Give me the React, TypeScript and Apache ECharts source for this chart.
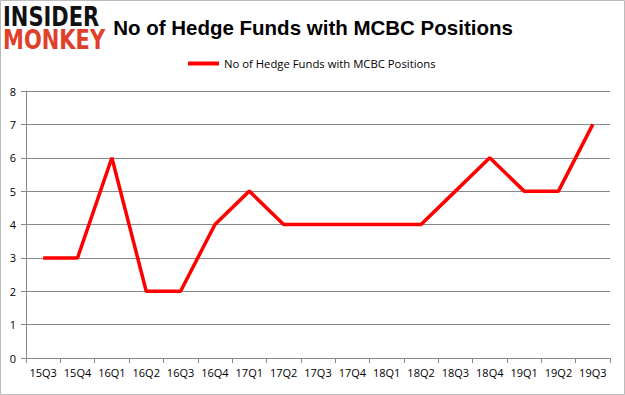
import React, { useEffect, useRef } from "react";
import * as echarts from "echarts";

const categories = ["15Q3","15Q4","16Q1","16Q2","16Q3","16Q4","17Q1","17Q2","17Q3","17Q4","18Q1","18Q2","18Q3","18Q4","19Q1","19Q2","19Q3"];
const values = [3,3,6,2,2,4,5,4,4,4,4,4,5,6,5,5,7];
const seriesName = "No of Hedge Funds with MCBC Positions";
const titleText = "No of Hedge Funds with MCBC Positions";

export default function App() {
  const ref = useRef<HTMLDivElement>(null);
  useEffect(() => {
    if (!ref.current) return;
    const chart = echarts.init(ref.current, null, { renderer: "svg" });
    chart.setOption({
      animation: false,
      backgroundColor: "#ffffff",
      title: {
        text: titleText,
        left: 308,
        textAlign: "center",
        top: 12,
        textStyle: { fontFamily: "Liberation Sans", fontWeight: "bold", fontSize: 20.5, color: "#000" },
      },
      legend: {
        data: [seriesName],
        top: 53,
        left: 183,
        itemWidth: 31,
        itemHeight: 4,
        itemGap: 4,
        icon: "rect",
        textStyle: { fontFamily: "Open Sans", fontSize: 11.3, color: "#000" },
      },
      graphic: [
        { type: "rect", shape: { x: 0.5, y: 0.5, width: 624, height: 394 }, style: { fill: "none", stroke: "#bbb", lineWidth: 1 } },
        { type: "text", x: 3, y: 3, scaleY: 1.3, style: { text: "INSIDER", fontFamily: "DejaVu Sans", fontWeight: 900, fontSize: 21, fill: "#111" } },
        { type: "text", x: 3, y: 26, scaleY: 1.3, style: { text: "MONKEY", fontFamily: "DejaVu Sans", fontWeight: 900, fontSize: 21, fill: "#e0402a" } },
      ],
      grid: { left: 26, right: 15, top: 91, bottom: 37, containLabel: false },
      xAxis: {
        type: "category",
        data: categories,
        boundaryGap: true,
        axisLine: { lineStyle: { color: "#888" } },
        axisTick: { show: true, alignWithLabel: false, length: 5, lineStyle: { color: "#888" } },
        axisLabel: { fontFamily: "Open Sans", fontSize: 11, color: "#000", margin: 9, interval: 0 },
      },
      yAxis: {
        type: "value",
        min: 0,
        max: 8,
        interval: 1,
        axisLine: { show: true, lineStyle: { color: "#888" } },
        axisTick: { show: true, length: 5, inside: false, lineStyle: { color: "#888" } },
        splitLine: { lineStyle: { color: "#888" } },
        axisLabel: { fontFamily: "Open Sans", fontSize: 11, color: "#000", margin: 10 },
      },
      series: [
        {
          name: seriesName,
          type: "line",
          data: values,
          symbol: "none",
          lineStyle: { color: "#ff0000", width: 3.5 },
          itemStyle: { color: "#ff0000" },
        },
      ],
    });
    return () => chart.dispose();
  }, []);
  return <div ref={ref} style={{ position: "absolute", left: 0, top: 0, width: 625, height: 395 }} />;
}
